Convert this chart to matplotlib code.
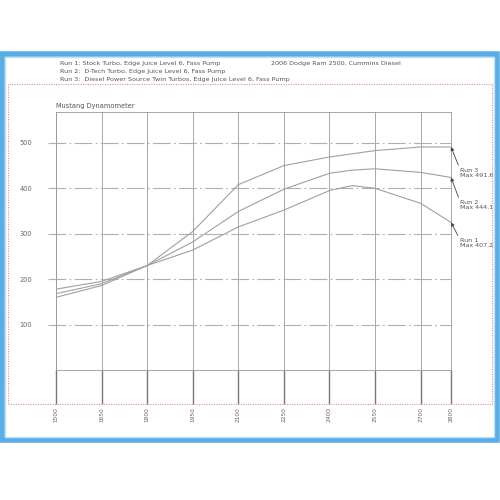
import matplotlib
matplotlib.use("Agg")
import matplotlib.pyplot as plt
from matplotlib.patches import Rectangle

plt.rcParams['font.family'] = ['DejaVu Sans']

# ---- data ----
rpm = [1500, 1650, 1800, 1950, 2100, 2250, 2400, 2475, 2550, 2700, 2800]
run1 = [178, 195, 230, 264, 315, 352, 395, 406, 400, 367, 325]
run2 = [168, 190, 230, 282, 349, 398, 433, 440, 443, 435, 424]
run3 = [160, 186, 230, 305, 408, 450, 469, 476, 483, 491, 491]
xticks = [1500, 1650, 1800, 1950, 2100, 2250, 2400, 2550, 2700, 2800]
yticks = [100, 200, 300, 400, 500]
run_labels = ["Run 1\nMax 407.2", "Run 2\nMax 444.1", "Run 3\nMax 491.6"]
header = ["Run 1: Stock Turbo, Edge Juice Level 6, Fass Pump",
          "Run 2:  D-Tech Turbo, Edge Juice Level 6, Fass Pump",
          "Run 3:  Diesel Power Source Twin Turbos, Edge Juice Level 6, Fass Pump"]
vehicle = "2006 Dodge Ram 2500, Cummins Diesel"
title = "Mustang Dynamometer"

W = H = 500
fig = plt.figure(figsize=(5, 5), dpi=100)
fig.patch.set_facecolor('white')

def fx(px):
    return px / W

def fy(py):
    return 1 - py / H

# blue frame
fig.patches.append(Rectangle((fx(2), fy(440)), fx(495), (440 - 54) / H, transform=fig.transFigure,
                             fill=False, edgecolor='#5aaee6', linewidth=4, zorder=0))
fig.patches.append(Rectangle((fx(5), fy(437)), fx(489), (437 - 57) / H, transform=fig.transFigure,
                             fill=False, edgecolor='#bfe0f7', linewidth=1, zorder=0))
# red dotted frame
fig.patches.append(Rectangle((fx(8), fy(404)), fx(484), (404 - 84) / H, transform=fig.transFigure,
                             fill=False, edgecolor='#e09090', linewidth=0.8, linestyle=(0, (1, 1.2)), zorder=0))

ax = fig.add_axes([fx(56), fy(370), fx(451 - 56), (370 - 112) / H])
ax.set_facecolor('none')
ax.set_xlim(1500, 2800)
ax.set_ylim(0, 568)

gcol = '#999999'
for x in xticks:
    ax.axvline(x, color=gcol, lw=0.6, zorder=1)
ax.hlines(yticks, -0.02, 1, transform=ax.get_yaxis_transform(), clip_on=False,
          colors='#b0b0b0', lw=0.8, linestyles=[(0, (16, 3, 1.5, 3))], zorder=1)

for s in ax.spines.values():
    s.set_color(gcol)
    s.set_linewidth(0.6)

ax.set_xticks(xticks)
ax.set_xticklabels([str(v) for v in xticks], rotation=90, fontsize=4.2, color='#666666')
ax.tick_params(axis='x', length=24.5, width=1.0, color='#777777', pad=2)
ax.set_yticks(yticks)
ax.set_yticklabels([str(v) for v in yticks], fontsize=4.8, color='#666666')
ax.tick_params(axis='y', length=0, pad=17)

ccol = '#a0a0a0'
for ys in (run1, run2, run3):
    ax.plot(rpm, ys, color=ccol, lw=0.8, zorder=3)

# annotations
text_y = [(369.25 - 243) * 2.21, (369.25 - 205) * 2.21, (369.25 - 173) * 2.21]
for ys, lab, ty in zip((run1, run2, run3), run_labels, text_y):
    ax.annotate(lab, xy=(rpm[-1], ys[-1]), xytext=(2830, ty), textcoords='data',
                fontsize=4.6, color='#555555', va='center', ha='left', annotation_clip=False,
                linespacing=1.0,
                arrowprops=dict(arrowstyle='-|>', color='#444444', lw=0.6, mutation_scale=5,
                                shrinkA=0, shrinkB=0, relpos=(0, 0.85)))

ax.text(0, 1.01, title, transform=ax.transAxes, fontsize=4.8, color='#555555', ha='left', va='bottom')

for i, t in enumerate(header):
    fig.text(fx(60), fy(64 + 8 * i), t, fontsize=4.6, color='#555555', ha='left', va='center')
fig.text(fx(271), fy(64), vehicle, fontsize=4.6, color='#555555', ha='left', va='center')

fig.savefig('out.png', dpi=100, facecolor='white')
